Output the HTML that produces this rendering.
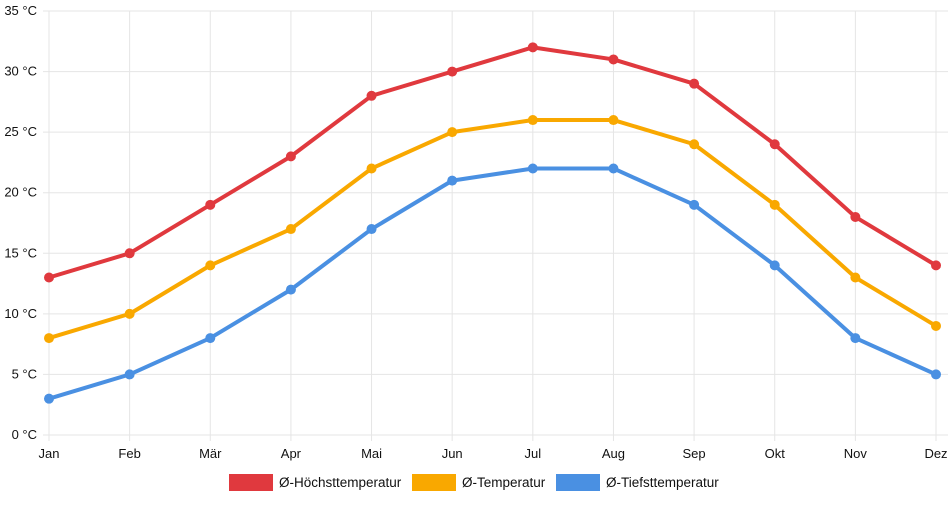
<!DOCTYPE html>
<html><head><meta charset="utf-8"><style>
body{margin:0;background:#fff;font-family:"Liberation Sans",sans-serif}
svg text{font-family:"Liberation Sans",sans-serif;font-size:13px;fill:#111}
svg text.lg{font-size:13.5px}
</style></head><body>
<svg id="c" width="952" height="500"></svg>
<script>
const months=["Jan","Feb","Mär","Apr","Mai","Jun","Jul","Aug","Sep","Okt","Nov","Dez"];
const highs=[13,15,19,23,28,30,32,31,29,24,18,14];
const avgs=[8,10,14,17,22,25,26,26,24,19,13,9];
const lows=[3,5,8,12,17,21,22,22,19,14,8,5];
const yTicks=[0,5,10,15,20,25,30,35];
const seriesNames=["Ø-Höchsttemperatur","Ø-Temperatur","Ø-Tiefsttemperatur"];
const colors=["#e0393e","#f9a800","#4a90e2"];
const svg=document.getElementById('c');const NS="http://www.w3.org/2000/svg";
const X0=49,X1=936,Y0=435,Y1=11;
const x=i=>X0+i*(X1-X0)/(months.length-1);
const y=v=>Y0-(v/35)*(Y0-Y1);
function mk(t,a,p){const e=document.createElementNS(NS,t);for(const k in a)e.setAttribute(k,a[k]);(p||svg).appendChild(e);return e;}
yTicks.forEach(t=>{
  const l=mk('line',{x1:X0-6,x2:X1+12,y1:y(t),y2:y(t),stroke:'#e5e5e5'});
  
  
  const tx=mk('text',{x:X0-12,y:y(t)+4,'text-anchor':'end'});tx.textContent=t+' °C';
  
  
});
months.forEach((m,i)=>{
  const l=mk('line',{x1:x(i),x2:x(i),y1:Y1,y2:Y0+6,stroke:'#e5e5e5'});
  
  
  const tx=mk('text',{x:x(i),y:Y0+23,'text-anchor':'middle'});tx.textContent=m;
  
  
});
[highs,avgs,lows].forEach((s,k)=>{
  const p=mk('polyline',{points:s.map((v,i)=>x(i)+','+y(v)).join(' '),fill:'none',stroke:colors[k],'stroke-width':4,'stroke-linejoin':'round'});
  
  
  s.forEach((v,i)=>{const c=mk('circle',{cx:x(i),cy:y(v),r:5,fill:colors[k]});
    
    });
});
const lx=[229,412,556];
seriesNames.forEach((n,k)=>{
  const g=mk('g',{});
  
  
  mk('rect',{x:lx[k],y:474,width:44,height:17,fill:colors[k]},g);
  const t=mk('text',{x:lx[k]+50,y:487,'class':'lg'},g);t.textContent=n;
});
</script>
</body></html>
